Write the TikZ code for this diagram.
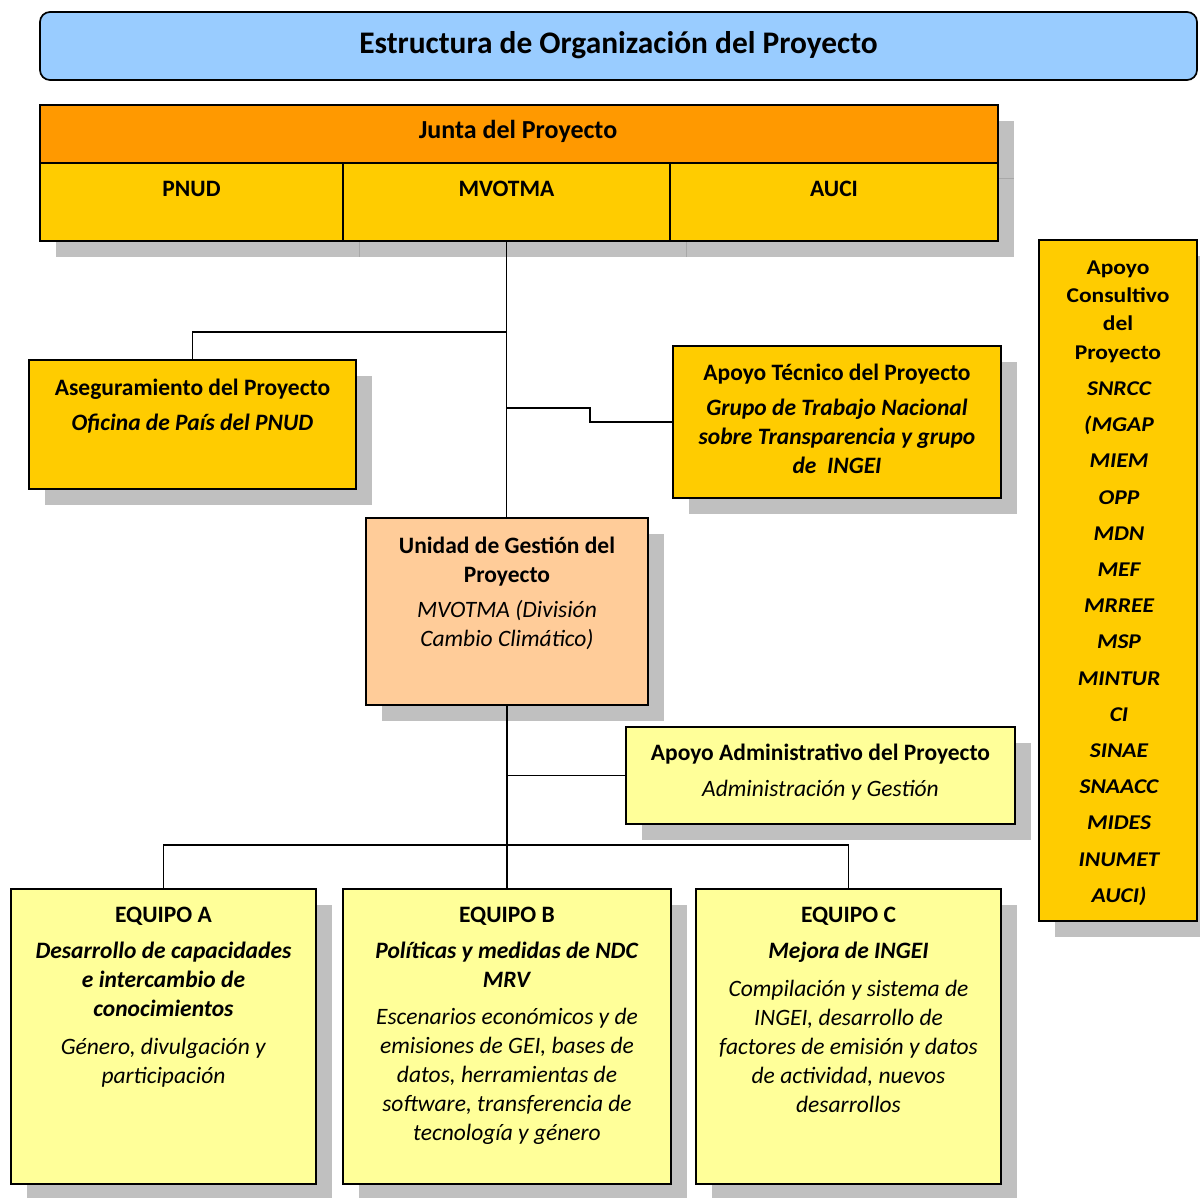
\documentclass[tikz,border=0pt]{standalone}
\usepackage{fontspec}
\setmainfont{Carlito}
\newfontfamily\widefont{Carlito}[FakeStretch=1.12]
\usetikzlibrary{calc}
\pgfdeclarelayer{bg}
\pgfsetlayers{bg,main}
\definecolor{titleblue}{HTML}{99CCFF}
\definecolor{juntaorange}{HTML}{FF9900}
\definecolor{gold}{HTML}{FFCC00}
\definecolor{peach}{HTML}{FFCC99}
\definecolor{paleyellow}{HTML}{FFFF99}
\definecolor{shadowgrey}{HTML}{C0C0C0}
\definecolor{shadowline}{HTML}{A8A8A8}
\newcommand\shadowof[1]{\fill[shadowgrey] ([shift={(16,16)}]#1.south west) rectangle ([shift={(16,16)}]#1.north east);}
\newcommand\bi[1]{\textbf{\textit{#1}}}
\begin{document}
\begin{tikzpicture}[x=1pt,y=-1pt,
  box/.style={draw=black, line width=1.7pt, inner sep=0pt, outer sep=0pt, rectangle},
  txt/.style={align=center, inner sep=0pt, anchor=north, font=\fontsize{23.5}{29}\selectfont},
  onel/.style={inner sep=0pt, anchor=base},
  link/.style={draw=black, line width=1.8pt}]
\useasboundingbox (0,0) rectangle (1200,1198);

% title
\node[box, rounded corners=10pt, fill=titleblue, minimum width=1157pt, minimum height=68pt] (title) at (618.5,46) {};
\node[onel, font=\fontsize{31.4}{37}\selectfont\bfseries] (ttitle) at (618.5,54) {Estructura de Organización del Proyecto};

% board
\node[box, fill=juntaorange, minimum width=958pt, minimum height=58pt] (junta) at (519,134) {};
\node[box, fill=gold, minimum width=303pt, minimum height=78pt] (pn) at (191.5,202) {};
\node[box, fill=gold, minimum width=327pt, minimum height=78pt] (mv) at (506.5,202) {};
\node[box, fill=gold, minimum width=328pt, minimum height=78pt] (au) at (834,202) {};
\node[onel, font=\fontsize{26}{30}\selectfont\bfseries] (tjunta) at (518,139) {Junta del Proyecto};
\node[onel, font=\fontsize{23.5}{29}\selectfont\bfseries] (tpn) at (191.5,197) {PNUD};
\node[onel, font=\fontsize{23.5}{29}\selectfont\bfseries] (tmv) at (506.5,197) {MVOTMA};
\node[onel, font=\fontsize{23.5}{29}\selectfont\bfseries] (tau) at (834,197) {AUCI};

% boxes
\node[box, fill=gold, minimum width=327pt, minimum height=129pt] (ase) at (192.5,424.5) {};
\node[txt] (tase) at (192.5,374.7) {\strut\textbf{Aseguramiento del Proyecto}\\[6pt]\bi{Oficina de País del PNUD}};

\node[box, fill=gold, minimum width=328pt, minimum height=152pt] (tec) at (837,422) {};
\node[txt] (ttec) at (837,359.7) {\strut\textbf{Apoyo Técnico del Proyecto}\\[6pt]\bi{Grupo de Trabajo Nacional}\\\bi{sobre Transparencia y grupo}\\\bi{de\ \ INGEI}};

\node[box, fill=peach, minimum width=282pt, minimum height=187pt] (ug) at (507,611.5) {};
\node[txt] (tug) at (507,532.7) {\strut\textbf{Unidad de Gestión del}\\\textbf{Proyecto}\\[6pt]\textit{MVOTMA (División}\\\textit{Cambio Climático)}};

\node[box, fill=paleyellow, minimum width=389pt, minimum height=97pt] (adm) at (820.5,775.5) {};
\node[txt] (tadm) at (820.5,739.7) {\strut\textbf{Apoyo Administrativo del Proyecto}\\[7pt]\textit{Administración y Gestión}};

\node[box, fill=paleyellow, minimum width=305pt, minimum height=295pt] (eqA) at (163.5,1036.5) {};
\node[box, fill=paleyellow, minimum width=328pt, minimum height=295pt] (eqB) at (507,1036.5) {};
\node[box, fill=paleyellow, minimum width=305pt, minimum height=295pt] (eqC) at (848.5,1036.5) {};
\node[txt] (teqA) at (163.5,901.7) {\strut\textbf{EQUIPO A}\\[7pt]\bi{Desarrollo de capacidades}\\\bi{e intercambio de}\\\bi{conocimientos}\\[9pt]\textit{Género, divulgación y}\\\textit{participación}};
\node[txt] (teqB) at (507,901.7) {\strut\textbf{EQUIPO B}\\[7pt]\bi{Políticas y medidas de NDC}\\\bi{MRV}\\[8pt]\textit{Escenarios económicos y de}\\\textit{emisiones de GEI, bases de}\\\textit{datos, herramientas de}\\\textit{software, transferencia de}\\\textit{tecnología y género}};
\node[txt] (teqC) at (848.5,901.7) {\strut\textbf{EQUIPO C}\\[7pt]\bi{Mejora de INGEI}\\[9pt]\textit{Compilación y sistema de}\\\textit{INGEI, desarrollo de}\\\textit{factores de emisión y datos}\\\textit{de actividad, nuevos}\\\textit{desarrollos}};

\node[box, fill=gold, minimum width=158pt, minimum height=681pt] (cons) at (1118,580.5) {};
\node[txt, font=\widefont\fontsize{21}{28.3}\selectfont\bfseries] (tcons) at (1118,254.2) {\strut Apoyo\\Consultivo\\del\\Proyecto};
\node[txt, font=\widefont\fontsize{21}{36.2}\selectfont\bfseries\itshape] (tcons2) at (1119,369.9) {\strut SNRCC\\(MGAP\\MIEM\\OPP\\MDN\\MEF\\MRREE\\MSP\\MINTUR\\CI\\SINAE\\SNAACC\\MIDES\\INUMET\\AUCI)};

% shadows
\begin{pgfonlayer}{bg}
\fill[shadowgrey] ([shift={(16,16)}]junta.north west) rectangle ([shift={(16,16)}]au.south east);
\draw[shadowline, line width=1pt] ([shift={(16,0)}]pn.south east) -- ([shift={(16,16)}]pn.south east);
\draw[shadowline, line width=1pt] ([shift={(16,0)}]mv.south east) -- ([shift={(16,16)}]mv.south east);
\draw[shadowline, line width=1pt] ([shift={(0,16)}]junta.south east) -- ([shift={(16,16)}]junta.south east);
\shadowof{ase}
\shadowof{tec}
\shadowof{ug}
\shadowof{adm}
\shadowof{eqA}
\shadowof{eqB}
\shadowof{eqC}
\shadowof{cons}
\end{pgfonlayer}

% connectors
\coordinate (j1) at (mv.south |- 0,332);
\coordinate (j2) at (mv.south |- 0,408);
\coordinate (k2) at (590,408);
\coordinate (j4) at (ug.south |- 0,845);
\coordinate (j3) at (ug.south |- adm.west);
\draw[link] (mv.south) -- (mv.south |- ug.north);
\draw[link] (j1) -| (ase.north);
\draw[link] (j2) -- (k2) |- (tec.west);
\draw[link] (ug.south) -- (j4);
\draw[link] (j3) -- (adm.west);
\draw[link] (eqA.north) |- (eqC.north |- j4) -- (eqC.north);
\draw[link] (j4) -- (eqB.north);
\end{tikzpicture}
\end{document}
